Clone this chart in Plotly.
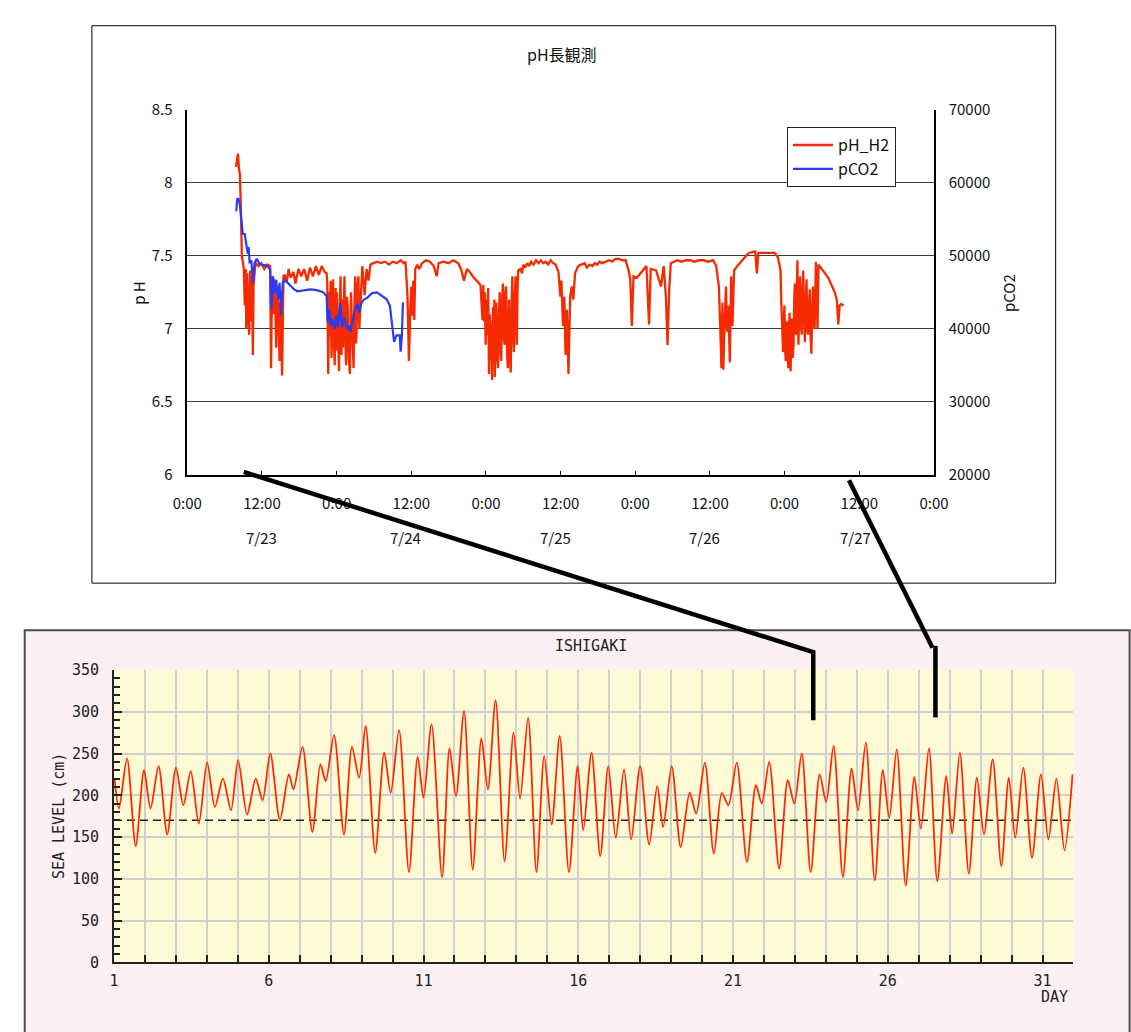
import plotly.graph_objects as go

# ---------------- pH / pCO2 record (hours since 7/23 0:00) ----------------
ph_hours = [
    7.83, 7.98, 8.14, 8.30, 8.45, 8.61, 8.77, 8.92, 9.08, 9.24, 9.39, 9.47, 9.63, 9.78, 9.94,
    10.10, 10.25, 10.41, 10.53, 10.65, 10.80, 10.96, 11.43, 11.90, 12.37, 12.84, 13.31, 13.46,
    13.62, 13.85, 14.04, 14.29, 14.56, 14.83, 14.98, 15.23, 15.45, 15.66, 15.97, 16.28, 16.59,
    17.06, 17.38, 17.85, 18.32, 18.79, 19.26, 19.73, 20.20, 20.67, 21.13, 21.60, 22.07, 22.39,
    22.50, 22.65, 22.78, 22.90, 23.03, 23.17, 23.30, 23.43, 23.56, 23.69, 23.85, 23.95, 24.06,
    24.20, 24.38, 24.50, 24.63, 24.78, 24.90, 25.00, 25.13, 25.26, 25.40, 25.52, 25.65, 25.78,
    25.95, 26.14, 26.30, 26.46, 26.60, 26.72, 26.85, 26.98, 27.08, 27.19, 27.35, 27.50, 27.65,
    27.87, 28.00, 28.13, 28.49, 28.81, 29.12, 29.44, 29.90, 30.53,
    31.15, 31.78, 32.41, 33.03, 33.66, 34.29, 34.76, 35.07, 35.38, 35.62, 35.85, 36.01, 36.16,
    36.32, 36.48, 36.63, 36.95, 37.26, 37.73, 38.36, 38.98, 39.61, 40.08, 40.39, 41.17, 41.96,
    42.74, 43.52, 43.99, 44.46, 44.93, 45.40, 45.87, 46.50, 47.12,
    47.44, 47.57, 47.70, 47.82, 47.95, 48.08, 48.22, 48.35, 48.48, 48.60, 48.73, 48.86, 49.00,
    49.13, 49.27, 49.35, 49.42, 49.55, 49.67, 49.80, 49.94, 50.08, 50.21, 50.33, 50.46, 50.59,
    50.72, 50.85, 50.99, 51.12, 51.24, 51.38, 51.51, 51.61, 51.71, 51.85, 51.98, 52.11, 52.24,
    52.37, 52.49, 52.62, 52.76, 52.86, 52.96, 53.07, 53.18,
    53.54, 53.80, 54.01, 54.30, 54.64, 54.95, 55.26, 55.65, 56.05, 56.45, 56.83, 57.20, 57.61,
    58.00, 58.40, 58.80, 59.18, 59.65, 59.96, 60.12, 60.38, 60.59, 60.79, 61.01, 61.26, 61.53,
    61.79, 62.04, 62.31, 62.82, 63.30, 63.87, 64.20, 64.66, 65.10, 65.50, 65.90, 66.22, 66.70,
    67.20, 67.79, 68.30, 68.80, 69.35, 69.90, 70.45, 70.92, 71.19, 71.44, 71.71,
    72.23, 73.01, 73.79, 74.21, 74.48, 75.35, 76.13, 76.56, 76.92, 77.18, 77.45, 77.70, 78.20,
    78.75, 79.40, 80.10, 80.83, 81.50, 82.20, 82.93, 83.70, 84.50, 85.01, 85.43, 85.69, 85.84,
    86.00, 86.15, 86.37, 86.58, 86.73, 86.94, 87.20, 87.40, 87.62, 87.87, 88.40, 89.19, 90.22,
    91.27, 91.53, 91.78, 92.32, 93.35, 94.40, 94.92,
    95.34, 95.45, 95.54, 95.65, 95.76, 95.87, 95.97, 96.07, 96.17, 96.28, 96.39, 96.50, 96.60,
    96.70, 96.80, 96.88, 96.96, 97.07, 97.18, 97.30, 97.43, 97.54, 97.65, 97.75, 97.85, 97.96,
    98.06, 98.14, 98.22, 98.35, 98.48, 98.61, 98.74, 98.87, 98.99, 99.13, 99.26, 99.39, 99.52,
    99.65, 99.77, 99.90, 100.04, 100.17, 100.30, 100.42, 100.55, 100.68, 100.82, 101.02, 101.15,
    101.29, 101.45, 101.96, 102.49, 103.01, 103.53, 104.06, 104.42, 104.62, 104.85, 105.10, 105.47,
]
ph_values = [
    8.11, 8.16, 8.20, 8.10, 8.06, 7.83, 7.49, 7.46, 7.41, 7.16, 7.41, 7.00, 7.38, 7.10, 6.96,
    7.40, 7.05, 7.36, 6.82, 7.30, 7.41, 7.45, 7.43, 7.45, 7.41, 7.44, 7.43, 6.73,
    7.36, 7.10, 7.34, 6.87, 7.29, 6.78, 7.18, 6.68, 7.36, 7.37, 7.32, 7.41, 7.35,
    7.39, 7.31, 7.41, 7.36, 7.41, 7.33, 7.42, 7.36, 7.43, 7.37, 7.43, 7.39, 7.38,
    7.30, 6.69, 7.25, 6.95, 7.33, 6.80, 7.15, 7.34, 6.90, 6.75, 7.28, 6.85, 7.25,
    6.95, 6.71, 7.10, 7.36, 6.82, 7.20, 6.87, 7.30, 7.36, 6.90, 6.75, 7.22, 7.16,
    6.80, 6.69, 7.25, 7.09, 6.85, 6.73, 7.15, 7.36, 6.90, 6.96, 7.30, 7.36, 7.00,
    7.18, 7.35, 7.43, 7.23, 7.41, 7.33, 7.44, 7.45, 7.46,
    7.45, 7.46, 7.44, 7.46, 7.45, 7.47, 7.45, 7.46, 7.23, 6.78, 7.16, 7.29, 7.09,
    7.33, 7.06, 7.41, 7.44, 7.41, 7.45, 7.47, 7.46, 7.43, 7.36, 7.45, 7.46, 7.45,
    7.47, 7.45, 7.41, 7.33, 7.41, 7.39, 7.36, 7.33, 7.30,
    7.06, 7.30, 7.05, 7.25, 6.89, 7.20, 6.96, 7.28, 6.69, 7.10, 7.02, 6.75, 6.65,
    7.15, 6.96, 7.20, 6.67, 7.05, 7.18, 6.80, 6.73, 7.10, 7.25, 6.85, 6.78, 7.20,
    7.31, 6.95, 6.89, 7.25, 7.29, 6.85, 6.73, 7.05, 7.20, 6.80, 6.70, 7.15, 7.36,
    6.95, 6.84, 7.20, 7.36, 7.00, 6.89, 7.25, 7.40,
    7.41, 7.38, 7.44, 7.42, 7.45, 7.43, 7.46, 7.44, 7.47, 7.45, 7.47, 7.45, 7.46,
    7.44, 7.47, 7.45, 7.44, 7.39, 7.22, 7.33, 7.02, 7.22, 6.82, 7.13, 6.69, 7.22,
    7.29, 7.20, 7.38, 7.43, 7.44, 7.45, 7.42, 7.44, 7.43, 7.45, 7.44, 7.46, 7.45,
    7.46, 7.47, 7.46, 7.48, 7.48, 7.47, 7.47, 7.40, 7.34, 7.02, 7.36,
    7.35, 7.39, 7.43, 7.03, 7.41, 7.40, 7.29, 7.43, 7.22, 6.89, 7.27, 7.45, 7.46,
    7.47, 7.46, 7.47, 7.47, 7.46, 7.47, 7.47, 7.46, 7.47, 7.43, 7.29, 6.96, 6.73,
    7.18, 6.72, 7.07, 7.29, 6.98, 7.16, 6.77, 7.36, 7.02, 7.40, 7.43, 7.47, 7.52,
    7.53, 7.38, 7.52, 7.52, 7.52, 7.52, 7.49,
    7.40, 7.20, 7.11, 6.95, 6.84, 7.05, 7.16, 6.90, 6.78, 7.00, 7.05, 6.80, 6.73,
    7.00, 7.11, 6.85, 6.71, 6.95, 7.07, 6.80, 6.89, 7.20, 7.31, 7.00, 6.96, 7.30,
    7.47, 7.10, 6.89, 7.15, 7.36, 7.05, 6.96, 7.25, 7.40, 7.05, 6.91, 7.20, 7.34,
    7.00, 6.96, 7.15, 7.27, 6.95, 6.83, 7.10, 7.29, 7.05, 7.00, 7.46, 7.20,
    7.00, 7.44, 7.41, 7.38, 7.35, 7.30, 7.25, 7.19, 7.03, 7.16, 7.17, 7.16,
]

pco2_hours = [
    7.87, 8.03, 8.30, 8.45, 8.66, 8.92, 9.24, 9.44, 9.71, 9.86, 10.02, 10.29, 10.54, 10.80,
    11.16, 11.54, 11.95, 12.48, 12.99, 13.31, 13.51, 13.78, 14.04, 14.29, 14.56, 14.83, 15.08,
    15.34, 15.61, 16.13, 16.64, 17.17, 17.69, 18.74, 19.77, 20.82, 21.87, 22.39, 22.54, 22.81,
    23.06, 23.33, 23.69, 23.95, 24.22, 24.58, 24.89, 25.25, 25.63, 25.94, 26.19, 26.57, 26.97,
    27.35, 27.60, 28.02, 28.38, 28.92, 29.17, 29.70, 30.48, 31.26, 32.05, 32.56, 32.83, 33.08,
    33.24, 33.61, 34.13, 34.29, 34.49, 34.65,
]
pco2_values = [
    56100, 57900, 57700, 57000, 55200, 53000, 53000, 51600, 50300, 51200, 49000, 49400, 46300, 49000,
    49600, 48950, 48750, 48750, 48500, 48100, 42700, 47200, 44900, 46700, 44000, 46300, 42000,
    46300, 46700, 46300, 45800, 45400, 45150, 45300, 45400, 45300, 45000, 44500, 40900, 42700,
    40450, 41350, 40000, 41800, 40200, 43600, 40200, 41550, 40000, 40450, 39550, 40900, 42700,
    43350, 42250, 43600, 44000, 44250, 44500, 44900, 45000, 44500, 44050, 43150, 40900, 39550,
    38200, 39100, 39100, 36850, 39100, 43600,
]

time_tick_hours = [0, 12, 24, 36, 48, 60, 72, 84, 96, 108, 120]
time_tick_text = ["0:00", "12:00", "0:00", "12:00", "0:00", "12:00",
                  "0:00", "12:00", "0:00", "12:00", "0:00"]
date_labels = ["7/23", "7/24", "7/25", "7/26", "7/27"]
date_label_hours = [12.0, 35.0, 59.2, 83.1, 107.4]

# ---------------- Ishigaki tide gauge (day of month, cm) ----------------
tide_days = [
    1.02, 1.16, 1.42, 1.70, 1.97, 2.18, 2.44, 2.72, 3.00, 3.24, 3.48, 3.74, 4.01, 4.26, 4.52,
    4.78, 5.01, 5.30, 5.58, 5.80, 6.05, 6.36, 6.65, 6.80, 7.09, 7.41, 7.67, 7.84, 8.11, 8.43,
    8.69, 8.92, 9.13, 9.44, 9.73, 9.94, 10.21, 10.53, 10.81, 11.00, 11.26, 11.60, 11.84, 12.05,
    12.31, 12.59, 12.87, 13.08, 13.33, 13.62, 13.91, 14.12, 14.38, 14.65, 14.90, 15.14, 15.40,
    15.70, 15.98, 16.16, 16.43, 16.71, 16.97, 17.21, 17.48, 17.71, 18.00, 18.29, 18.55, 18.74,
    19.02, 19.31, 19.60, 19.81, 20.09, 20.38, 20.64, 20.85, 21.12, 21.45, 21.74, 21.93, 22.17,
    22.49, 22.77, 22.98, 23.22, 23.51, 23.80, 24.01, 24.25, 24.55, 24.83, 25.04, 25.29, 25.58,
    25.84, 26.05, 26.29, 26.58, 26.86, 27.07, 27.33, 27.60, 27.89, 28.08, 28.33, 28.62, 28.88,
    29.11, 29.39, 29.67, 29.91, 30.12, 30.38, 30.66, 30.95, 31.19, 31.45, 31.71, 31.97,
]
tide_levels = [
    219, 184, 244, 139, 230, 184, 235, 153, 233, 188, 229, 166, 239, 186, 220,
    182, 242, 177, 220, 194, 250, 170, 225, 207, 258, 156, 237, 217, 272, 153,
    258, 221, 283, 131, 251, 203, 278, 108, 246, 197, 285, 102, 256, 199,
    301, 111, 268, 207, 314, 121, 275, 196, 293, 108, 247, 165, 271,
    108, 235, 158, 251, 127, 235, 149, 231, 147, 235, 141, 211, 162,
    235, 138, 203, 178, 239, 130, 203, 188, 239, 120, 212, 190, 240,
    112, 218, 190, 250, 108, 225, 192, 259, 102, 232, 182, 263, 98,
    230, 173, 255, 92, 222, 160, 256, 97, 223, 154, 251, 106, 221,
    153, 243, 115, 221, 149, 233, 125, 225, 147, 220, 134, 225,
]
mean_level = 170
day_ticks = [1, 6, 11, 16, 21, 26, 31]

W, H = 1131, 1032


def px(x):
    return x / W


def py(y):
    return 1 - y / H


RED = "#f52a00"
BLUE = "#2b3cf0"
JP = "Noto Sans CJK JP"
MONO = "DejaVu Sans Mono"

fig = go.Figure()

fig.add_trace(go.Scatter(
    x=ph_hours, y=ph_values, name="pH_H2", mode="lines",
    line=dict(color=RED, width=2.3), xaxis="x", yaxis="y"))
fig.add_trace(go.Scatter(
    x=pco2_hours, y=pco2_values, name="pCO2", mode="lines",
    line=dict(color=BLUE, width=2.2), xaxis="x", yaxis="y2"))

fig.add_trace(go.Scatter(
    x=[1, 32], y=[mean_level, mean_level], mode="lines", showlegend=False,
    line=dict(color="#222222", width=1.5, dash="8px,5px"), xaxis="x2", yaxis="y3"))
fig.add_trace(go.Scatter(
    x=tide_days, y=tide_levels, mode="lines", showlegend=False,
    line=dict(color="#ff2a00", width=1.8, shape="spline", smoothing=0.8),
    xaxis="x2", yaxis="y3"))

top_x = [px(177), px(944)]
top_y = [py(472.3), py(100)]
bot_x = [px(101.7), px(1087.3)]
bot_y = [py(970), py(671.7)]

fig.update_layout(
    width=W, height=H,
    margin=dict(l=0, r=0, t=0, b=0),
    paper_bgcolor="white",
    plot_bgcolor="rgba(0,0,0,0)",
    font=dict(family=JP, size=14, color="#111111"),
    xaxis=dict(
        domain=top_x, range=[0, 120], tickvals=time_tick_hours, ticktext=time_tick_text,
        showgrid=False, zeroline=False, showline=True, linecolor="black", linewidth=2,
        ticks="inside", ticklen=4, tickcolor="black", ticklabelstandoff=14,
        tickfont=dict(family=JP, size=15), anchor="y", fixedrange=True,
    ),
    yaxis=dict(
        domain=top_y, range=[6, 8.5], dtick=0.5, tick0=6,
        showgrid=True, gridcolor="#3c3c3c", gridwidth=1.4, zeroline=False,
        showline=True, linecolor="black", linewidth=1.5, ticks="",
        ticklabelstandoff=10, tickfont=dict(family=JP, size=15), anchor="x",
    ),
    yaxis2=dict(
        range=[20000, 70000], dtick=10000, tick0=20000, tickformat="d",
        overlaying="y", side="right", anchor="x", showgrid=False, zeroline=False,
        showline=True, linecolor="black", linewidth=1.5, ticks="",
        ticklabelstandoff=10, tickfont=dict(family=JP, size=15),
    ),
    xaxis2=dict(
        domain=bot_x, range=[1, 32], tickvals=day_ticks,
        showgrid=True, gridcolor="#cfcfcf", gridwidth=2,
        minor=dict(dtick=1, tick0=1, showgrid=True, gridcolor="#cfcfcf", gridwidth=2,
                   ticks="inside", ticklen=7, tickcolor="#222222"),
        ticks="inside", ticklen=7, tickcolor="#222222", tickwidth=1.5,
        zeroline=False, showline=True, linecolor="#222222", linewidth=2,
        ticklabelstandoff=4, tickfont=dict(family=MONO, size=15, color="#222222"),
        anchor="y3",
    ),
    yaxis3=dict(
        domain=bot_y, range=[0, 350], dtick=50, tick0=0,
        showgrid=True, gridcolor="#cfcfcf", gridwidth=2,
        minor=dict(dtick=10, ticks="inside", ticklen=6, tickcolor="#222222", showgrid=False),
        ticks="inside", ticklen=8, tickcolor="#222222", tickwidth=1.5,
        zeroline=False, showline=True, linecolor="#222222", linewidth=2,
        ticklabelstandoff=10, tickfont=dict(family=MONO, size=15, color="#222222"),
        anchor="x2",
    ),
    legend=dict(
        x=px(793), y=py(117.5), xanchor="left", yanchor="top",
        bgcolor="white", bordercolor="#222222", borderwidth=1,
        font=dict(family=JP, size=16, color="#111111"),
        tracegroupgap=0, itemwidth=40,
    ),
    showlegend=True,
)

shapes = [
    # top panel frame
    dict(type="rect", xref="paper", yref="paper", x0=px(79), x1=px(1069), y0=py(583), y1=py(14),
         line=dict(color="black", width=1), fillcolor="rgba(0,0,0,0)", layer="below"),
    # tide panel background
    dict(type="rect", xref="paper", yref="paper", x0=px(10), x1=px(1145), y0=py(1045), y1=py(631),
         line=dict(color="#4a4a4a", width=2), fillcolor="#fcf0f4", layer="below"),
    # tide plot area
    dict(type="rect", xref="x2 domain", yref="y3 domain", x0=0, x1=1, y0=0, y1=1,
         line=dict(width=0), fillcolor="#fefad6", layer="below"),
    # connector lines between the two records
    dict(type="path", xref="paper", yref="paper",
         path=f"M {px(235)} {py(469.5)} L {px(820)} {py(653.5)} L {px(820)} {py(723)}",
         line=dict(color="black", width=4.5), layer="above"),
    dict(type="path", xref="paper", yref="paper",
         path=f"M {px(856.7)} {py(478)} L {px(942.5)} {py(649)}",
         line=dict(color="black", width=4.5), layer="above"),
    dict(type="line", xref="paper", yref="paper",
         x0=px(945.5), x1=px(945.5), y0=py(647), y1=py(720),
         line=dict(color="black", width=4.5), layer="above"),
]
fig.update_layout(shapes=shapes)

annotations = [
    dict(text="pH長観測", x=px(562), y=py(42.5), xref="paper", yref="paper",
         showarrow=False, font=dict(family=JP, size=16, color="#111111"),
         xanchor="center", yanchor="middle"),
    dict(text="p H", x=px(127), y=py(287), xref="paper", yref="paper", textangle=-90,
         showarrow=False, font=dict(family=JP, size=15, color="#111111"),
         xanchor="center", yanchor="middle"),
    dict(text="pCO2", x=px(1020), y=py(287), xref="paper", yref="paper", textangle=-90,
         showarrow=False, font=dict(family=JP, size=15, color="#111111"),
         xanchor="center", yanchor="middle"),
    dict(text="ISHIGAKI", x=px(592), y=py(647.5), xref="paper", yref="paper",
         showarrow=False, font=dict(family=MONO, size=15, color="#222222"),
         xanchor="center", yanchor="middle"),
    dict(text="SEA LEVEL (cm)", x=px(45), y=py(821), xref="paper", yref="paper", textangle=-90,
         showarrow=False, font=dict(family=MONO, size=15, color="#222222"),
         xanchor="center", yanchor="middle"),
    dict(text="DAY", x=px(1067.5), y=py(1005), xref="paper", yref="paper",
         showarrow=False, font=dict(family=MONO, size=15, color="#222222"),
         xanchor="center", yanchor="middle"),
]
for label, hour in zip(date_labels, date_label_hours):
    annotations.append(dict(text=label, x=hour, y=py(536.5), xref="x", yref="paper",
                            showarrow=False, font=dict(family=JP, size=15, color="#111111"),
                            xanchor="center", yanchor="middle"))
fig.update_layout(annotations=annotations)

fig.write_html(
    "out.html",
    post_script="document.body.style.margin='0';document.body.style.overflow='hidden';",
)
